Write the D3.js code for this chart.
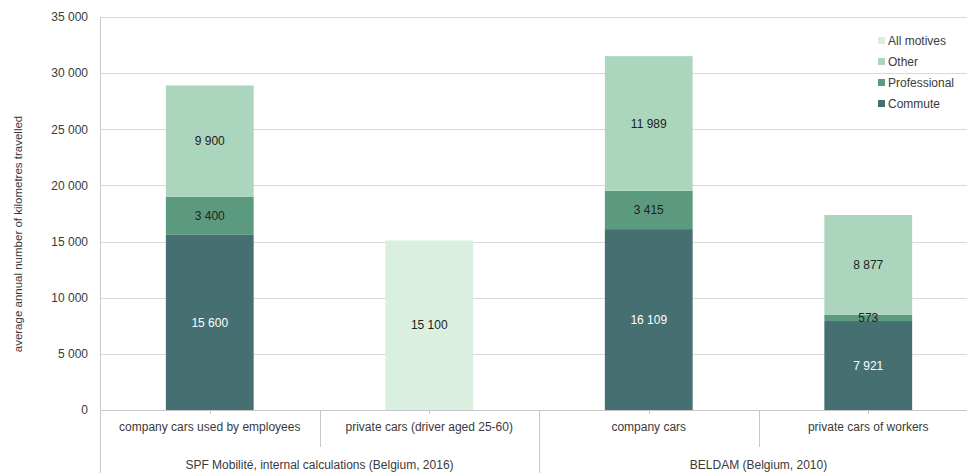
<!DOCTYPE html>
<html>
<head>
<meta charset="utf-8">
<script src="https://cdn.jsdelivr.net/npm/d3@7"></script>
<style>
  html, body { margin: 0; padding: 0; background: #fff; }
  svg { display: block; font-family: "Liberation Sans", Arial, sans-serif; }
</style>
</head>
<body>
<svg id="chart" width="967" height="473"></svg>
<script>
// Categories and their source groups
const categories = [
  "company cars used by employees",
  "private cars (driver aged 25-60)",
  "company cars",
  "private cars of workers"
];
const groups = [
  { label: "SPF Mobilité, internal calculations (Belgium, 2016)", from: 0, to: 1 },
  { label: "BELDAM (Belgium, 2010)", from: 2, to: 3 }
];

// Series values (km per year), stacked bottom to top
const seriesNames = ["Commute", "Professional", "Other", "All motives"];
const commute      = [15600, 0, 16109, 7921];
const professional = [3400, 0, 3415, 573];
const other        = [9900, 0, 11989, 8877];
const allMotives   = [0, 15100, 0, 0];

const yTicks = [0, 5000, 10000, 15000, 20000, 25000, 30000, 35000];

const colors = {
  "Commute": "#456f71",
  "Professional": "#5c9a7f",
  "Other": "#acd5bd",
  "All motives": "#d9f0e0"
};
const labelColors = {
  "Commute": "#ffffff",
  "Professional": "#222222",
  "Other": "#222222",
  "All motives": "#222222"
};

const rows = categories.map((c, i) => ({
  category: c,
  "Commute": commute[i],
  "Professional": professional[i],
  "Other": other[i],
  "All motives": allMotives[i]
}));

const svg = d3.select("#chart");
const margin = { left: 100, top: 17, bottom: 410 };
const plotRight = 978;

const fmt = d3.formatLocale({ decimal: ",", thousands: "\u00a0", grouping: [3], currency: ["", ""] }).format(",d");

const x = d3.scaleBand().domain(categories).range([margin.left, plotRight]).padding(0);
const y = d3.scaleLinear().domain([0, 35000]).range([margin.bottom, margin.top]);
const barW = x.bandwidth() * 0.4;
const barOff = (x.bandwidth() - barW) / 2;

const textColor = "#3a3a3a";

// Horizontal gridlines
svg.append("g")
  .selectAll("line")
  .data(yTicks)
  .join("line")
  .attr("x1", margin.left).attr("x2", plotRight)
  .attr("y1", d => Math.round(y(d)) + 0.5).attr("y2", d => Math.round(y(d)) + 0.5)
  .attr("stroke", "#d9d9d9").attr("stroke-width", 1);

// Y axis labels
const yAxis = d3.axisLeft(y).tickValues(yTicks).tickFormat(fmt).tickSize(0).tickPadding(12);
const yg = svg.append("g").attr("transform", `translate(${margin.left},0)`).call(yAxis);
yg.select(".domain").remove();
yg.selectAll("text").attr("fill", textColor).style("font-size", "12px");

// Y axis title
svg.append("text")
  .attr("transform", "translate(22,234) rotate(-90)")
  .attr("text-anchor", "middle")
  .attr("fill", textColor)
  .style("font-size", "11.5px")
  .text("average annual number of kilometres travelled");

// Stacked bars
const stack = d3.stack().keys(seriesNames);
const stacked = stack(rows);

const layers = svg.append("g").selectAll("g")
  .data(stacked)
  .join("g")
  .attr("fill", d => colors[d.key]);

layers.selectAll("rect")
  .data(d => d.map(p => ({ p, key: d.key })))
  .join("rect")
  .filter(d => d.p[1] - d.p[0] > 0)
  .attr("x", d => x(d.p.data.category) + barOff)
  .attr("width", barW)
  .attr("y", d => y(d.p[1]))
  .attr("height", d => y(d.p[0]) - y(d.p[1]));

// Value labels
const labels = [];
stacked.forEach(layer => {
  layer.forEach(p => {
    const v = p[1] - p[0];
    if (v > 0) labels.push({ key: layer.key, cat: p.data.category, mid: (p[0] + p[1]) / 2, v });
  });
});
svg.append("g").selectAll("text")
  .data(labels)
  .join("text")
  .attr("x", d => x(d.cat) + x.bandwidth() / 2)
  .attr("y", d => y(d.mid))
  .attr("dy", "0.35em")
  .attr("text-anchor", "middle")
  .attr("fill", d => labelColors[d.key])
  .style("font-size", "12px")
  .text(d => fmt(d.v));

// Baseline and axis frame
const axisColor = "#c8c8c8";
svg.append("line")
  .attr("x1", margin.left).attr("x2", plotRight)
  .attr("y1", Math.round(y(0)) + 0.5).attr("y2", Math.round(y(0)) + 0.5)
  .attr("stroke", axisColor);
svg.append("line")
  .attr("x1", margin.left + 0.5).attr("x2", margin.left + 0.5)
  .attr("y1", y(35000)).attr("y2", 473)
  .attr("stroke", axisColor);

// Category centre ticks
svg.append("g").selectAll("line")
  .data(categories)
  .join("line")
  .attr("x1", d => Math.round(x(d) + x.bandwidth() / 2) + 0.5)
  .attr("x2", d => Math.round(x(d) + x.bandwidth() / 2) + 0.5)
  .attr("y1", y(0)).attr("y2", y(0) + 4)
  .attr("stroke", axisColor);

// Separators between categories (short) and groups (long)
const groupStarts = new Set(groups.map(g => g.from));
svg.append("g").selectAll("line")
  .data(categories.slice(1))
  .join("line")
  .attr("x1", d => Math.round(x(d)) + 0.5)
  .attr("x2", d => Math.round(x(d)) + 0.5)
  .attr("y1", y(0))
  .attr("y2", d => groupStarts.has(categories.indexOf(d)) ? 473 : 447)
  .attr("stroke", axisColor);

// Category labels
svg.append("g").selectAll("text")
  .data(categories)
  .join("text")
  .attr("x", d => x(d) + x.bandwidth() / 2)
  .attr("y", 431)
  .attr("text-anchor", "middle")
  .attr("fill", textColor)
  .style("font-size", "12px")
  .text(d => d);

// Group labels
svg.append("g").selectAll("text")
  .data(groups)
  .join("text")
  .attr("x", g => (x(categories[g.from]) + x(categories[g.to]) + x.bandwidth()) / 2)
  .attr("y", 469)
  .attr("text-anchor", "middle")
  .attr("fill", textColor)
  .style("font-size", "12px")
  .text(g => g.label);

// Legend (top to bottom: reverse of stacking order)
const legendItems = seriesNames.slice().reverse();
const lg = svg.append("g").attr("transform", "translate(878,0)");
const legendY = d3.scalePoint().domain(legendItems).range([41, 104]);
const li = lg.selectAll("g")
  .data(legendItems)
  .join("g")
  .attr("transform", d => `translate(0,${legendY(d)})`);
li.append("rect")
  .attr("x", 0).attr("y", -4).attr("width", 7).attr("height", 7)
  .attr("fill", d => colors[d]);
li.append("text")
  .attr("x", 10).attr("y", 0)
  .attr("dy", "0.35em")
  .attr("fill", textColor)
  .style("font-size", "12px")
  .text(d => d);
</script>
</body>
</html>
